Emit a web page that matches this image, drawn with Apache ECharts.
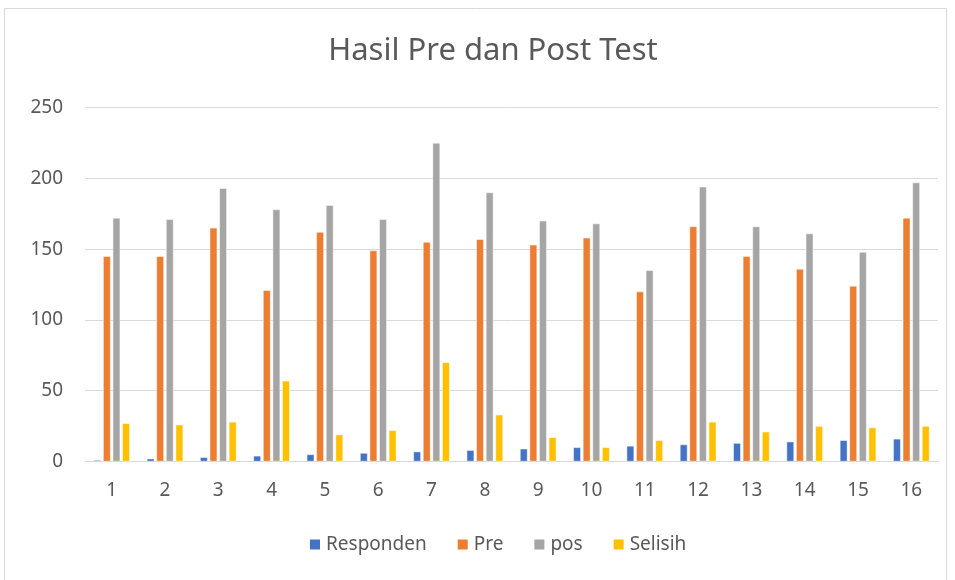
<!DOCTYPE html>
<html>
<head>
<meta charset="utf-8">
<script src="https://cdn.jsdelivr.net/npm/echarts@6/dist/echarts.min.js"></script>
<style>
	html, body { margin: 0; padding: 0; background: #fff; }
	#hasilChart { width: 955px; height: 580px; }
</style>
</head>
<body>
<div id="hasilChart"></div>
<script>
// data
const categories = ["1", "2", "3", "4", "5", "6", "7", "8", "9", "10", "11", "12", "13", "14", "15", "16"];
const responden = [1, 2, 3, 4, 5, 6, 7, 8, 9, 10, 11, 12, 13, 14, 15, 16];
const pre = [145, 145, 165, 121, 162, 149, 155, 157, 153, 158, 120, 166, 145, 136, 124, 172];
const pos = [172, 171, 193, 178, 181, 171, 225, 190, 170, 168, 135, 194, 166, 161, 148, 197];
const selisih = [27, 26, 28, 57, 19, 22, 70, 33, 17, 10, 15, 28, 21, 25, 24, 25];

const chart = echarts.init(document.getElementById("hasilChart"));
const textColor = "#595959";
const fontFamily = "'Noto Sans', 'Open Sans', sans-serif";

function barSeries(name, values) {
	return {
		name: name,
		type: "bar",
		data: values,
		barWidth: 7.5,
		barGap: "28%",
		itemStyle: { borderColor: "#fff", borderWidth: 0.5 },
	};
}

let option = {
	color: ["#4472C4", "#ED7D31", "#A5A5A5", "#FFC000"],
	animation: false,
	textStyle: { fontFamily: fontFamily },
	title: {
		text: "Hasil Pre dan Post Test",
		left: 488,
		textAlign: "center",
		top: 31,
		textStyle: { fontSize: 31, fontWeight: "normal", color: textColor, fontFamily: fontFamily },
	},
	graphic: [
		{
			type: "rect",
			shape: { x: 4.5, y: 8.5, width: 942, height: 575 },
			style: { fill: "none", stroke: "#d9d9d9", lineWidth: 1 },
			silent: true,
		},
	],
	grid: { left: 85, right: 17, top: 107.5, bottom: 118.5 },
	legend: {
		bottom: 21,
		left: 303,
		itemWidth: 12,
		itemHeight: 12,
		itemGap: 29,
		icon: "rect",
		textStyle: { fontSize: 19, color: textColor, fontFamily: fontFamily },
		data: ["Responden", "Pre", "pos", "Selisih"],
	},
	xAxis: {
		type: "category",
		data: categories,
		axisTick: { show: false },
		axisLine: { lineStyle: { color: "#d9d9d9", width: 1 } },
		axisLabel: { fontSize: 19, color: textColor, margin: 20 },
	},
	yAxis: {
		type: "value",
		min: 0,
		max: 250,
		interval: 50,
		axisLine: { show: false },
		axisTick: { show: false },
		axisLabel: { fontSize: 19, color: textColor, margin: 22 },
		splitLine: { lineStyle: { color: "#d9d9d9", width: 1 } },
	},
	series: [
		barSeries("Responden", responden),
		barSeries("Pre", pre),
		barSeries("pos", pos),
		barSeries("Selisih", selisih),
	],
};
chart.setOption(option, true);
window.addEventListener("resize", () => {
	chart.resize();
});
</script>
</body>
</html>
